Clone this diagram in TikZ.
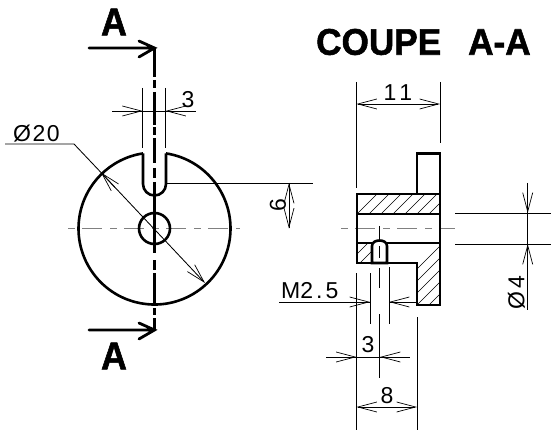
\documentclass[tikz,border=0pt]{standalone}
\usepackage{fontspec}
\setmainfont{Liberation Sans}
\newfontfamily\heavyfont[FakeBold=1.5]{Liberation Sans Bold}
\usetikzlibrary{arrows.meta}
\tikzset{
  x=1pt,y=-1pt,
  thick line/.style={line width=2.6pt,black},
  cut line/.style={line width=2.8pt,black},
  thin line/.style={line width=0.85pt,black},
  center line/.style={line width=1.8pt,black!50,dash pattern=on 7pt off 7pt on 20pt off 8pt},
  hatch line/.style={line width=0.7pt,black},
  dim tip/.style={-{Straight Barb[length=19pt,width=10pt,line width=0.7pt]}},
  dim label/.style={inner sep=0pt,font=\fontsize{23}{23}\selectfont},
  big label/.style={inner sep=0pt,font=\heavyfont\fontsize{39}{39}\selectfont,xscale=0.92},
  title label/.style={inner sep=0pt,anchor=west,xscale=0.95,font=\heavyfont\fontsize{37}{37}\selectfont},
}
\begin{document}
\begin{tikzpicture}
\useasboundingbox (0,0) rectangle (552,433);
% centre lines
\coordinate (cl1) at (68,228.5); \coordinate (cr1) at (240,228.5);
\coordinate (cl2) at (341,228.5); \coordinate (cr2) at (455,228.5);
\draw[center line] (cl1) -- (cr1);
\draw[center line] (cl2) -- (cr2);
% front view
\draw[thick line] (166,153.4) arc[start angle=-81.3,end angle=261.3,radius=76];
\draw[thick line] (143,153.4) -- (143,184) arc[start angle=180,end angle=0,radius=11.5] -- (166,153.4);
\node[draw,circle,line width=2.6pt,minimum size=31pt,inner sep=0pt] (hole) at (154.5,228.5) {};
% cut line
\coordinate (ct) at (154.5,48); \coordinate (cb) at (154.5,330);
\draw[cut line] (ct) -- (154.5,77);
\draw[cut line] (154.5,80) -- (154.5,88);
\draw[cut line] (154.5,92) -- (154.5,125);
\draw[cut line] (154.5,127.5) -- (154.5,135);
\draw[cut line] (154.5,138) -- (154.5,163);
\draw[cut line] (154.5,168) -- (154.5,178);
\draw[cut line] (154.5,182) -- (154.5,253);
\draw[cut line] (154.5,260) -- (154.5,270);
\draw[cut line] (154.5,273) -- (154.5,305);
\draw[cut line] (154.5,308) -- (154.5,315);
\draw[cut line] (154.5,318) -- (cb);
\coordinate (at1) at (89,48); \coordinate (at2) at (89,330);
\draw[cut line,line cap=round,line join=miter] (at1) -- (ct) (139,41) -- (ct) -- (139,57);
\draw[cut line,line cap=round] (at2) -- (cb) (139,323) -- (cb) -- (139,339);
\node[big label] (a1) at (114,22) {A};
\node[big label] (a2) at (114,356) {A};
\node[title label] (title) at (316,42) {COUPE};
\node[title label] (title2) at (468,42) {A-A};
% dim 3 top
\draw[thin line] (142.7,88) -- (142.7,148) (165.5,88) -- (165.5,148);
\draw[thin line] (112,111) -- (196,111);
\draw[thin line,dim tip] (122,111) -- (142.7,111);
\draw[thin line,dim tip] (186,111) -- (165.5,111);
\node[dim label] (t3a) at (188,100) {3};
% dia 20
\coordinate (l1) at (5,144); \coordinate (l2) at (74,144);
\coordinate (tipa) at (101,172.5); \coordinate (tipb) at (205,283);
\draw[thin line] (l1) -- (l2) -- (tipa);
\draw[thin line,dim tip] (115,187.5) -- (tipa);
\draw[thin line,dim tip] (tipa) -- (tipb);
\node[dim label,anchor=west] (t20) at (13,134) {Ø\kern1.5pt2\kern1.5pt0};
% dim 6
\draw[thin line] (166,183) -- (313,183);
\draw[thin line] (289,183) -- (289,228.5);
\draw[thin line,dim tip] (289,204) -- (289,183);
\draw[thin line,dim tip] (289,208) -- (289,228.5);
\node[dim label,rotate=90] (t6) at (278,205) {6};
% section hatching
\begin{scope}
\clip (357,194) rectangle (440,214);
\foreach \i in {0,...,10} \draw[hatch line] ({355+12*\i},216) -- ({355+12*\i+24},192);
\end{scope}
\begin{scope}
\clip (357,243) rectangle (372,263);
\foreach \i in {0,...,3} \draw[hatch line] ({345+12*\i},266) -- ({345+12*\i+26},240);
\end{scope}
\begin{scope}
\clip (387,243) -- (440,243) -- (440,305) -- (417,305) -- (417,263) -- (387,263) -- cycle;
\foreach \i in {0,...,12} \draw[hatch line] ({400+12*\i-24},310) -- ({400+12*\i+50},236);
\end{scope}
% section outline
\draw[thick line,line join=miter] (357,194) rectangle (440,214);
\draw[thick line,line join=miter] (417,194) -- (417,153.5) -- (440,153.5) -- (440,194);
\draw[thick line,line join=miter] (357,214) -- (357,243) (440,214) -- (440,243);
\draw[thick line,line join=miter] (372,243) -- (357,243) -- (357,263) -- (372,263);
\draw[thick line,line join=miter] (387,243) -- (440,243) -- (440,305) -- (417,305) -- (417,263) -- (387,263);
\draw[thick line] (372,263) -- (372,246) .. controls (372,242) and (376,240.5) .. (379.5,240.5) .. controls (383,240.5) and (387,242) .. (387,246) -- (387,263) -- cycle;
% tapped hole axis
\draw[thin line] (379.5,226) -- (379.5,240);
\draw[thin line] (379.5,246) -- (379.5,258);
\draw[thin line] (379.5,268) -- (379.5,288);
\draw[thin line] (379.5,314) -- (379.5,378);
% dim 11
\draw[thin line] (356.5,82) -- (356.5,188) (440,82) -- (440,143);
\draw[thin line,dim tip] (398,104) -- (356.5,104);
\draw[thin line,dim tip] (398,104) -- (440,104);
\node[dim label] (t11) at (398,93) {1\kern3pt1};
% M2.5
\draw[thin line] (370,273) -- (370,324) (389,267) -- (389,324);
\draw[thin line] (279,302) -- (370,302);
\draw[thin line,dim tip] (350,302) -- (370,302);
\draw[thin line] (389,302) -- (417,302);
\draw[thin line,dim tip] (409,302) -- (389,302);
\node[dim label,anchor=west] (tm) at (281,291) {M2\kern3pt.\kern3pt5};
% lower dims
\draw[thin line] (356.5,273) -- (356.5,430) (417,317) -- (417,430);
\draw[thin line] (326,357) -- (410,357);
\draw[thin line,dim tip] (336,357) -- (356.5,357);
\draw[thin line,dim tip] (400,357) -- (380,357);
\node[dim label] (t3b) at (368,345) {3};
\draw[thin line,dim tip] (387,407) -- (356.5,407);
\draw[thin line,dim tip] (387,407) -- (417,407);
\node[dim label] (t8) at (387,396) {8};
% dia 4
\draw[thin line] (455,213) -- (551,213) (455,244) -- (551,244);
\draw[thin line] (527.7,183) -- (527.7,310);
\draw[thin line,dim tip] (527.7,195) -- (527.7,213);
\draw[thin line,dim tip] (527.7,263) -- (527.7,244);
\node[dim label,rotate=90,anchor=west] (t4) at (516.5,310) {Ø\kern3pt4};
\end{tikzpicture}
\end{document}
